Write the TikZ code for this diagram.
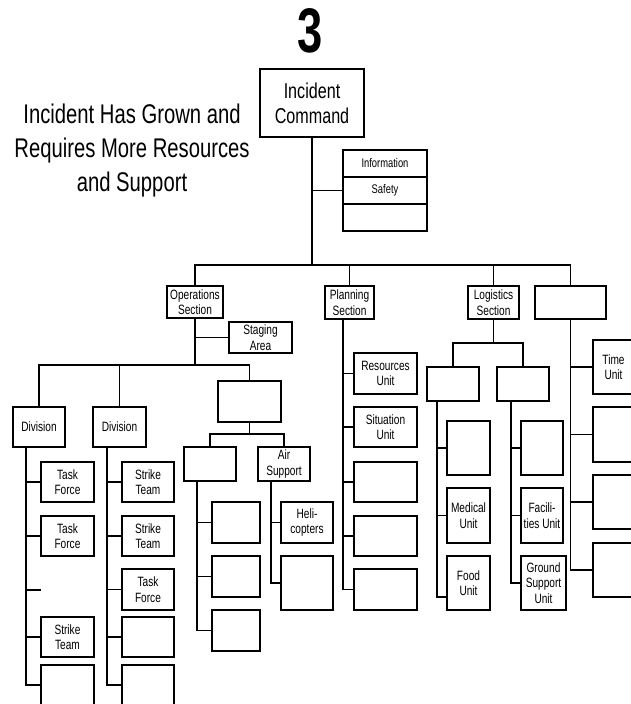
\documentclass[tikz,border=0pt]{standalone}
\usepackage{fontspec}
\setmainfont{Liberation Sans}[FakeStretch=0.75]
\newfontfamily\titlefont{Liberation Sans}[FakeStretch=0.72]
\begin{document}
\begin{tikzpicture}[x=1pt,y=-1pt,line width=1.1pt,
  bx/.style={draw,line width=1.1pt,inner sep=0pt,align=center,font=\fontsize{13.5}{15.5}\selectfont},
  sz/.style 2 args={minimum width=#1pt,minimum height=#2pt},
  icfont/.style={font=\fontsize{21.5}{25}\selectfont},
  stkfont/.style={font=\fontsize{12.5}{14}\selectfont},
  titletxt/.style={inner sep=0pt,font=\titlefont\bfseries\fontsize{63}{63}\selectfont},
  captxt/.style={inner sep=0pt,align=center,font=\fontsize{27}{34}\selectfont}]
\useasboundingbox (0,0) rectangle (631,704);
\clip (0,0) rectangle (631,704);

% title and caption
\node[titletxt] (num) at (310,30.5) {3};
\node[captxt] (cap) at (132,151) {Incident Has Grown and\\Requires More Resources\\and Support};

% command level
\node[bx,sz={104}{68},icfont] (ic) at (312,103) {Incident\\Command};
\node[bx,sz={84}{27},stkfont] (info) at (385,163.5) {Information};
\node[bx,sz={84}{27},stkfont] (safety) at (385,190.5) {Safety};
\node[bx,sz={84}{27},stkfont] (stk3) at (385,217.5) {};

% sections
\node[bx,sz={56}{32}] (ops) at (195,302) {Operations\\Section};
\node[bx,sz={49}{33}] (plan) at (349.5,302.5) {Planning\\Section};
\node[bx,sz={51}{33}] (logi) at (493.5,302.5) {Logistics\\Section};
\node[bx,sz={71}{33}] (rsec) at (570.5,302.5) {};

% operations
\node[bx,sz={63}{31}] (stg) at (260.5,337.5) {Staging\\Area};
\node[bx,sz={52}{40}] (div1) at (39,427) {Division};
\node[bx,sz={53}{40}] (div2) at (119.5,427) {Division};
\node[bx,sz={63}{41}] (blank3) at (249.5,401.5) {};

\node[bx,sz={53}{40}] (a1) at (67.5,482) {Task\\Force};
\node[bx,sz={53}{40}] (a2) at (67.5,536) {Task\\Force};
\node[bx,sz={53}{40}] (a4) at (67.5,637) {Strike\\Team};
\node[bx,sz={53}{50}] (a5) at (67.5,690) {};
\coordinate (stub) at (41,590);

\node[bx,sz={52}{40}] (b1) at (148,482) {Strike\\Team};
\node[bx,sz={52}{40}] (b2) at (148,536) {Strike\\Team};
\node[bx,sz={52}{41}] (b3) at (148,589.5) {Task\\Force};
\node[bx,sz={52}{40}] (b4) at (148,637) {};
\node[bx,sz={52}{50}] (b5) at (148,690) {};

\node[bx,sz={52}{34}] (blank2) at (210,464) {};
\node[bx,sz={52}{34}] (air) at (284,464) {Air\\Support};
\node[bx,sz={48}{41}] (g1) at (236,522.5) {};
\node[bx,sz={48}{41}] (g2) at (236,576.5) {};
\node[bx,sz={48}{41}] (g3) at (236,630.5) {};
\node[bx,sz={52}{41}] (heli) at (307,522.5) {Heli-\\copters};
\node[bx,sz={52}{54}] (ab) at (307,583) {};

% planning
\node[bx,sz={63}{41}] (p1) at (385.5,373.5) {Resources\\Unit};
\node[bx,sz={63}{40}] (p2) at (385.5,427) {Situation\\Unit};
\node[bx,sz={63}{40}] (p3) at (385.5,482) {};
\node[bx,sz={63}{40}] (p4) at (385.5,536) {};
\node[bx,sz={63}{41}] (p5) at (385.5,589.5) {};

% logistics
\node[bx,sz={52}{34}] (logA) at (453,384) {};
\node[bx,sz={52}{34}] (logB) at (523,384) {};
\node[bx,sz={43}{54}] (la1) at (468.5,448) {};
\node[bx,sz={43}{55}] (med) at (468.5,515.5) {Medical\\Unit};
\node[bx,sz={43}{54}] (food) at (468.5,583) {Food\\Unit};
\node[bx,sz={42}{54}] (lb1) at (542,448) {};
\node[bx,sz={42}{55}] (fac) at (542,515.5) {Facili-\\ties Unit};
\node[bx,sz={45}{54}] (ground) at (543.5,583) {Ground\\Support\\Unit};

% right section
\node[bx,sz={41}{54}] (t1) at (613.5,367) {Time\\Unit};
\node[bx,sz={41}{55}] (t2) at (613.5,434.5) {};
\node[bx,sz={41}{54}] (t3) at (613.5,502) {};
\node[bx,sz={41}{54}] (t4) at (613.5,570) {};

% ---------- connectors ----------
\coordinate (bus) at (312,265);
\draw (ic.south) -- (bus);
\draw (ic.south |- safety.west) -- (safety.west);
\draw (ops.north) |- (bus) -| (rsec.north);
\draw (plan.north) -- (plan.north |- bus);
\draw (logi.north) -- (logi.north |- bus);

% operations branch
\coordinate (obus) at (195,365);
\draw (ops.south) -- (obus);
\draw (ops.south |- stg.west) -- (stg.west);
\draw (div1.north) |- (obus) -| (blank3.north);
\draw (div2.north) -- (div2.north |- obus);

\coordinate (d1v) at (26,447);
\draw (d1v) |- ([yshift=5pt]a5.west);
\draw (a1.west) -- (a1.west -| d1v);
\draw (a2.west) -- (a2.west -| d1v);
\draw (stub) -- (stub -| d1v);
\draw (a4.west) -- (a4.west -| d1v);

\coordinate (d2v) at (107,447);
\draw (d2v) |- ([yshift=5pt]b5.west);
\draw (b1.west) -- (b1.west -| d2v);
\draw (b2.west) -- (b2.west -| d2v);
\draw (b3.west) -- (b3.west -| d2v);
\draw (b4.west) -- (b4.west -| d2v);

\coordinate (b3bus) at (249.5,434);
\draw (blank3.south) -- (b3bus);
\draw (blank2.north) |- (b3bus) -| (air.north);

\coordinate (b2v) at (197,481);
\draw (b2v) |- (g3.west);
\draw (g1.west) -- (g1.west -| b2v);
\draw (g2.west) -- (g2.west -| b2v);

\coordinate (av) at (271,481);
\draw (av) |- (ab.west);
\draw (heli.west) -- (heli.west -| av);

% planning branch
\coordinate (pv) at (343,319);
\draw (pv) |- (p5.west);
\draw (p1.west) -- (p1.west -| pv);
\draw (p2.west) -- (p2.west -| pv);
\draw (p3.west) -- (p3.west -| pv);
\draw (p4.west) -- (p4.west -| pv);

% logistics branch
\coordinate (lbus) at (493.5,343);
\draw (logi.south) -- (lbus);
\draw (logA.north) |- (lbus) -| (logB.north);
\coordinate (lav) at (437,401);
\draw (lav) |- ([yshift=-14pt]food.west);
\draw (la1.west) -- (la1.west -| lav);
\draw (med.west) -- (med.west -| lav);
\coordinate (lbv) at (511,401);
\draw (lbv) |- (ground.west);
\draw (lb1.west) -- (lb1.west -| lbv);
\draw (fac.west) -- (fac.west -| lbv);

% right branch
\draw (rsec.south) |- (t4.west);
\draw (t1.west) -- (t1.west -| rsec.south);
\draw (t2.west) -- (t2.west -| rsec.south);
\draw (t3.west) -- (t3.west -| rsec.south);
\end{tikzpicture}
\end{document}
